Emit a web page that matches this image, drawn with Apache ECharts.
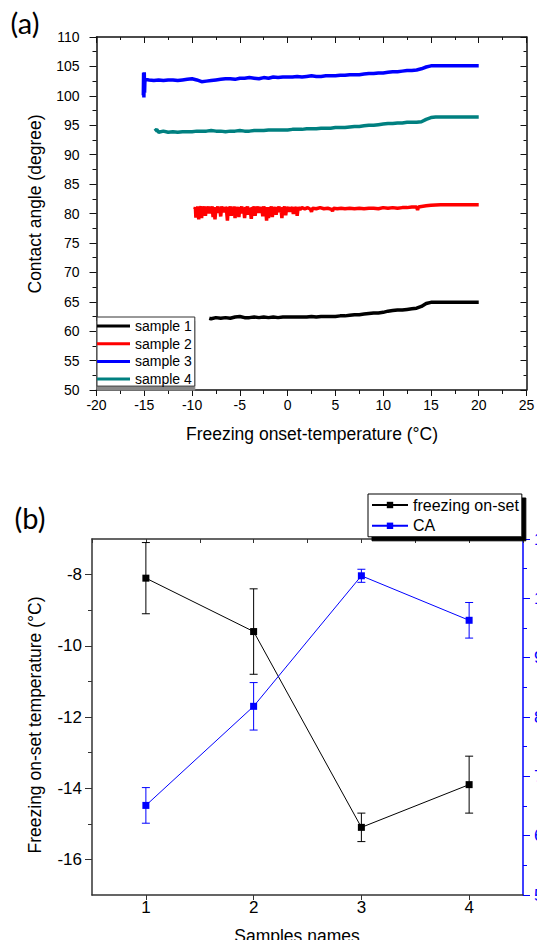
<!DOCTYPE html>
<html><head><meta charset="utf-8">
<script src="https://cdn.jsdelivr.net/npm/echarts@6/dist/echarts.min.js"></script>
<style>html,body{margin:0;padding:0;background:#fff}#c{width:537px;height:940px}</style>
</head><body><div id="c"></div>
<script>
// ---------- Panel (a) data: [temperature °C, contact angle °] ----------
const sample1 = [[-8.2,62.2],[-8.0,62.1],[-7.5,62.3],[-7,62.2],[-6.5,62.3],[-6,62.2],[-5.5,62.4],[-5,62.5],[-4.5,62.3],[-4,62.3],[-3.5,62.4],[-3,62.3],[-2.5,62.4],[-2,62.3],[-1.5,62.4],[-1,62.3],[-0.5,62.4],[0,62.4],[0.5,62.4],[1,62.4],[1.5,62.4],[2,62.4],[2.5,62.5],[3,62.4],[3.5,62.5],[4,62.5],[4.5,62.5],[5,62.5],[5.5,62.6],[6,62.6],[6.5,62.7],[7,62.8],[7.5,62.8],[8,62.9],[8.5,63.0],[9,63.1],[9.5,63.1],[10,63.2],[10.5,63.4],[11,63.5],[11.5,63.6],[12,63.6],[12.5,63.7],[13,63.8],[13.5,63.9],[14,64.2],[14.5,64.7],[15,64.9],[16,64.9],[17,64.9],[18,64.9],[19,64.9],[20,64.9]];
const sample2 = [[-9.7,80.7],[-9.65,81.1],[-9.6,79.3],[-9.55,81.0],[-9.45,80.4],[-9.4,81.2],[-9.3,79.0],[-9.25,81.1],[-9.15,80.8],[-9.05,81.2],[-9.0,79.2],[-8.9,81.0],[-8.8,80.5],[-8.7,81.2],[-8.6,79.6],[-8.5,81.1],[-8.4,80.6],[-8.3,81.2],[-8.2,80.0],[-8.1,81.0],[-8.0,80.6],[-7.9,81.2],[-7.8,79.4],[-7.7,81.1],[-7.6,79.0],[-7.5,81.0],[-7.4,80.5],[-7.3,81.2],[-7.2,80.1],[-7.1,81.0],[-7.0,79.5],[-6.9,81.2],[-6.8,80.6],[-6.7,81.0],[-6.6,80.2],[-6.5,81.1],[-6.4,80.7],[-6.3,78.8],[-6.2,81.1],[-6.1,80.5],[-6.0,81.2],[-5.9,79.6],[-5.8,81.0],[-5.7,80.3],[-5.6,81.2],[-5.5,79.2],[-5.4,81.0],[-5.3,80.6],[-5.2,81.1],[-5.1,79.4],[-5.0,81.0],[-4.9,80.5],[-4.8,81.2],[-4.7,80.0],[-4.6,81.0],[-4.5,79.2],[-4.4,81.1],[-4.3,80.6],[-4.2,81.2],[-4.1,79.8],[-4.0,81.0],[-3.9,80.4],[-3.8,79.1],[-3.7,81.1],[-3.6,80.6],[-3.5,81.2],[-3.4,79.6],[-3.3,81.0],[-3.2,80.7],[-3.1,81.2],[-3.0,80.1],[-2.9,81.0],[-2.8,80.5],[-2.7,81.1],[-2.6,79.5],[-2.5,81.2],[-2.4,80.6],[-2.3,81.0],[-2.2,78.8],[-2.1,81.1],[-2.0,79.2],[-1.9,81.0],[-1.8,80.6],[-1.7,81.2],[-1.6,79.4],[-1.5,81.0],[-1.4,80.5],[-1.3,81.1],[-1.2,79.8],[-1.1,81.0],[-1.0,80.7],[-0.9,81.2],[-0.8,80.2],[-0.7,81.0],[-0.6,79.2],[-0.5,81.1],[-0.4,80.6],[-0.3,81.2],[-0.2,79.7],[-0.1,81.0],[0.0,80.7],[0.1,81.1],[0.2,80.3],[0.3,81.0],[0.4,80.7],[0.5,81.1],[0.6,79.9],[0.7,81.0],[0.8,80.7],[0.9,81.1],[1.0,79.6],[1.1,81.0],[1.3,80.7],[1.5,81.0],[1.8,80.8],[2.1,81.0],[2.4,80.7],[2.5,80.3],[2.6,80.9],[3.0,80.8],[3.4,81.0],[3.8,80.8],[4.2,80.9],[4.6,80.7],[4.7,80.4],[4.8,80.9],[5.2,80.8],[5.6,80.9],[6.0,80.8],[6.5,80.9],[7.0,80.8],[7.5,80.9],[8.0,80.8],[8.5,80.9],[9.0,80.9],[9.5,80.8],[10.0,81.0],[10.5,80.9],[11.0,81.0],[11.5,80.9],[12.0,81.0],[12.5,81.0],[13.0,81.1],[13.5,81.1],[13.6,80.6],[13.7,81.1],[14.0,81.2],[14.5,81.3],[15.0,81.4],[16,81.5],[17,81.5],[18,81.5],[19,81.5],[20,81.5]];
const sample3 = [[-15.1,100.1],[-15.07,103.9],[-15.04,99.7],[-15.0,104.0],[-14.97,100.5],[-14.93,102.8],[-14.5,102.7],[-14,102.6],[-13.5,102.7],[-13,102.6],[-12.5,102.7],[-12,102.7],[-11.5,102.6],[-11,102.7],[-10.5,102.8],[-10,102.9],[-9.5,102.7],[-9,102.4],[-8.5,102.5],[-8,102.6],[-7.5,102.7],[-7,102.8],[-6.5,102.9],[-6,102.9],[-5.5,102.8],[-5,103.0],[-4.5,103.0],[-4,103.1],[-3.5,103.0],[-3,102.9],[-2.5,103.1],[-2,103.0],[-1.5,103.2],[-1,103.1],[-0.5,103.2],[0,103.2],[0.5,103.2],[1,103.3],[1.5,103.2],[2,103.3],[2.5,103.4],[3,103.3],[3.5,103.3],[4,103.4],[4.5,103.4],[5,103.4],[5.5,103.5],[6,103.5],[6.5,103.6],[7,103.6],[7.5,103.6],[8,103.7],[8.5,103.8],[9,103.8],[9.5,103.9],[10,103.9],[10.5,104.0],[11,104.1],[11.5,104.1],[12,104.2],[12.5,104.3],[13,104.3],[13.5,104.4],[14,104.6],[14.5,104.9],[15,105.1],[16,105.1],[17,105.1],[18,105.1],[19,105.1],[20,105.1]];
const sample4 = [[-13.9,94.0],[-13.7,94.3],[-13.5,93.8],[-13,94.0],[-12.5,93.8],[-12,93.9],[-11.5,93.8],[-11,93.9],[-10.5,93.9],[-10,93.9],[-9.5,94.0],[-9,94.0],[-8.5,94.0],[-8,94.1],[-7.5,94.0],[-7,94.0],[-6.5,93.9],[-6,94.0],[-5.5,94.0],[-5,94.1],[-4.5,94.0],[-4,94.0],[-3.5,94.1],[-3,94.1],[-2.5,94.1],[-2,94.2],[-1.5,94.2],[-1,94.2],[-0.5,94.2],[0,94.2],[0.5,94.3],[1,94.3],[1.5,94.3],[2,94.4],[2.5,94.4],[3,94.4],[3.5,94.5],[4,94.5],[4.5,94.5],[5,94.6],[5.5,94.6],[6,94.6],[6.5,94.7],[7,94.8],[7.5,94.8],[8,94.9],[8.5,95.0],[9,95.0],[9.5,95.1],[10,95.2],[10.5,95.3],[11,95.3],[11.5,95.4],[12,95.4],[12.5,95.5],[13,95.5],[13.5,95.5],[14,95.6],[14.5,96.0],[15,96.3],[15.5,96.4],[16,96.4],[17,96.4],[18,96.4],[19,96.4],[20,96.4]];
const sampleNamesA = ['sample 1','sample 2','sample 3','sample 4'];
const coloursA = ['#000000','#ff0000','#0000ff','#008080'];

// ---------- Panel (b) data ----------
const sampleIds = [1, 2, 3, 4];
const freezingOnset = [-8.1, -9.6, -15.1, -13.9];
const freezingErr = [1.0, 1.2, 0.4, 0.8];
const contactAngle = [65.1, 81.8, 103.8, 96.3];
const contactAngleErr = [3.0, 4.0, 1.1, 3.0];
const leftLabelsB = [-16, -14, -12, -10, -8];
const leftMinorB = [-15, -13, -11, -9];

const FONT = 'Liberation Sans, Arial, sans-serif';
const chart = echarts.init(document.getElementById('c'), null, {renderer: 'svg'});

function errorBars(name, xs, ys, es, xi, yi, colour) {
  return {
    name: name, type: 'custom', xAxisIndex: xi, yAxisIndex: yi, z: 3,
    encode: {x: 0, y: [1, 2]},
    data: xs.map((x, i) => [x, ys[i] - es[i], ys[i] + es[i]]),
    renderItem: function (params, api) {
      const x = api.value(0);
      const lo = api.coord([x, api.value(1)]);
      const hi = api.coord([x, api.value(2)]);
      const w = 4;
      const st = {stroke: colour, lineWidth: 1};
      return {type: 'group', children: [
        {type: 'line', shape: {x1: lo[0], y1: lo[1], x2: hi[0], y2: hi[1]}, style: st},
        {type: 'line', shape: {x1: lo[0] - w, y1: lo[1], x2: lo[0] + w, y2: lo[1]}, style: st},
        {type: 'line', shape: {x1: hi[0] - w, y1: hi[1], x2: hi[0] + w, y2: hi[1]}, style: st}
      ]};
    }
  };
}

const axisLineK = {show: true, onZero: false, lineStyle: {color: '#111', width: 1.5}};
const axisLineB = {show: true, onZero: false, lineStyle: {color: '#333', width: 1.5}};
const tickK = {lineStyle: {color: '#111', width: 1}};

const option = {
  animation: false,
  backgroundColor: '#fff',
  grid: [
    {left: 96.5, top: 37, width: 430, height: 353, outerBoundsMode: 'none', containLabel: false},
    {left: 92, top: 539, width: 431, height: 356, outerBoundsMode: 'none', containLabel: false}
  ],
  xAxis: [
    {gridIndex: 0, type: 'value', position: 'bottom', min: -20, max: 25, interval: 5,
     axisLine: axisLineK, splitLine: {show: false},
     axisTick: Object.assign({length: 6, inside: false}, tickK),
     minorTick: {show: true, splitNumber: 2, length: 4, lineStyle: {color: '#111'}},
     axisLabel: {fontFamily: FONT, fontSize: 14, color: '#000', margin: 8}},
    {gridIndex: 0, type: 'value', position: 'top', min: -20, max: 25, interval: 5,
     axisLine: axisLineK, splitLine: {show: false},
     axisTick: Object.assign({length: 6, inside: true}, tickK),
     minorTick: {show: true, splitNumber: 2, length: 3, lineStyle: {color: '#111'}},
     axisLabel: {show: false}},
    {gridIndex: 1, type: 'value', position: 'bottom', min: 0.5, max: 4.5,
     axisLine: axisLineB, splitLine: {show: false},
     axisTick: {length: 5, inside: false, customValues: sampleIds, lineStyle: {color: '#333'}},
     axisLabel: {fontFamily: FONT, fontSize: 17, color: '#000', margin: 4, customValues: sampleIds}},
    {gridIndex: 1, type: 'value', position: 'top', min: 0.5, max: 4.5, interval: 0.5,
     axisLine: axisLineB, splitLine: {show: false},
     axisTick: {length: 4, inside: true, lineStyle: {color: '#333'}},
     axisLabel: {show: false}}
  ],
  yAxis: [
    {gridIndex: 0, type: 'value', position: 'left', min: 50, max: 110, interval: 5,
     axisLine: axisLineK, splitLine: {show: false},
     axisTick: Object.assign({length: 7, inside: false}, tickK),
     minorTick: {show: true, splitNumber: 2, length: 4, lineStyle: {color: '#111'}},
     axisLabel: {fontFamily: FONT, fontSize: 14, color: '#000', margin: 17}},
    {gridIndex: 0, type: 'value', position: 'right', min: 50, max: 110, interval: 5,
     axisLine: axisLineK, splitLine: {show: false},
     axisTick: Object.assign({length: 6, inside: true}, tickK),
     minorTick: {show: true, splitNumber: 2, length: 3, lineStyle: {color: '#111'}},
     axisLabel: {show: false}},
    {gridIndex: 1, type: 'value', position: 'left', min: -17, max: -7,
     axisLine: axisLineB, splitLine: {show: false},
     axisTick: {length: 7, inside: false, customValues: leftLabelsB, lineStyle: {color: '#333'}},
     axisLabel: {fontFamily: FONT, fontSize: 17, color: '#000', margin: 10, customValues: leftLabelsB}},
    {gridIndex: 1, type: 'value', position: 'right', min: 50, max: 110, interval: 10,
     axisLine: {show: true, onZero: false, lineStyle: {color: '#0000ff', width: 1.5}}, splitLine: {show: false},
     axisTick: {length: 7, inside: false, lineStyle: {color: '#0000ff'}},
     minorTick: {show: true, splitNumber: 2, length: 4, lineStyle: {color: '#0000ff'}},
     axisLabel: {fontFamily: FONT, fontSize: 17, color: '#0000ff', margin: 11}},
    {gridIndex: 1, type: 'value', position: 'left', min: -17, max: -7, offset: 0,
     axisLine: {show: false, onZero: false}, splitLine: {show: false},
     axisTick: {length: 4, inside: false, customValues: leftMinorB, lineStyle: {color: '#333'}},
     axisLabel: {show: false}}
  ],
  legend: [
    {data: sampleNamesA, orient: 'vertical', left: 97, top: 317, icon: 'rect',
     itemWidth: 33, itemHeight: 3, itemGap: 3.7, padding: [2, 3, 0, 0],
     borderColor: '#333', borderWidth: 1, backgroundColor: '#fff',
     shadowColor: '#888', shadowOffsetY: 4, shadowOffsetX: 0, shadowBlur: 0,
     selectedMode: false,
     textStyle: {fontFamily: FONT, fontSize: 14, color: '#000', lineHeight: 14}},
    {data: ['freezing on-set', 'CA'], orient: 'vertical', left: 368, top: 494,
     itemWidth: 36, itemHeight: 8, itemGap: 4.8, padding: [3, 3, 3, 3],
     borderColor: '#000', borderWidth: 1, backgroundColor: '#fff',
     shadowColor: '#000', shadowOffsetX: 4, shadowOffsetY: 4, shadowBlur: 0,
     selectedMode: false,
     textStyle: {fontFamily: FONT, fontSize: 16, color: '#000', lineHeight: 16}}
  ],
  graphic: [
    {type: 'text', x: 25, y: 22, style: {text: '(a)', font: '29px Lato, "Open Sans", sans-serif', fill: '#000', textAlign: 'center', textVerticalAlign: 'middle'}},
    {type: 'text', x: 30, y: 517, style: {text: '(b)', font: '29px Lato, "Open Sans", sans-serif', fill: '#000', textAlign: 'center', textVerticalAlign: 'middle'}},
    {type: 'text', x: 35, y: 204, rotation: Math.PI / 2, style: {text: 'Contact angle (degree)', font: '17.5px ' + FONT, fill: '#000', textAlign: 'center', textVerticalAlign: 'middle'}},
    {type: 'text', x: 312, y: 434, style: {text: 'Freezing onset-temperature (°C)', font: '17.5px ' + FONT, fill: '#000', textAlign: 'center', textVerticalAlign: 'middle'}},
    {type: 'text', x: 35, y: 725, rotation: Math.PI / 2, style: {text: 'Freezing on-set temperature (°C)', font: '17.5px ' + FONT, fill: '#000', textAlign: 'center', textVerticalAlign: 'middle'}},
    {type: 'text', x: 297, y: 936, style: {text: 'Samples names', font: '17.5px ' + FONT, fill: '#000', textAlign: 'center', textVerticalAlign: 'middle'}}
  ],
  series: [
    ...[sample1, sample2, sample3, sample4].map((d, i) => ({
      name: sampleNamesA[i], type: 'line', xAxisIndex: 0, yAxisIndex: 0,
      data: d, symbol: 'none', showSymbol: false, z: 2,
      lineStyle: {color: coloursA[i], width: 3.5}, itemStyle: {color: coloursA[i]}
    })),
    errorBars('freezing err', sampleIds, freezingOnset, freezingErr, 2, 2, '#000'),
    errorBars('CA err', sampleIds, contactAngle, contactAngleErr, 2, 3, '#0000ff'),
    {name: 'freezing on-set', type: 'line', xAxisIndex: 2, yAxisIndex: 2,
     data: sampleIds.map((x, i) => [x, freezingOnset[i]]), symbol: 'rect', symbolSize: 7, z: 4,
     lineStyle: {color: '#000', width: 1}, itemStyle: {color: '#000'}},
    {name: 'CA', type: 'line', xAxisIndex: 2, yAxisIndex: 3,
     data: sampleIds.map((x, i) => [x, contactAngle[i]]), symbol: 'rect', symbolSize: 7, z: 4,
     lineStyle: {color: '#0000ff', width: 1}, itemStyle: {color: '#0000ff'}}
  ]
};
chart.setOption(option);
</script></body></html>
